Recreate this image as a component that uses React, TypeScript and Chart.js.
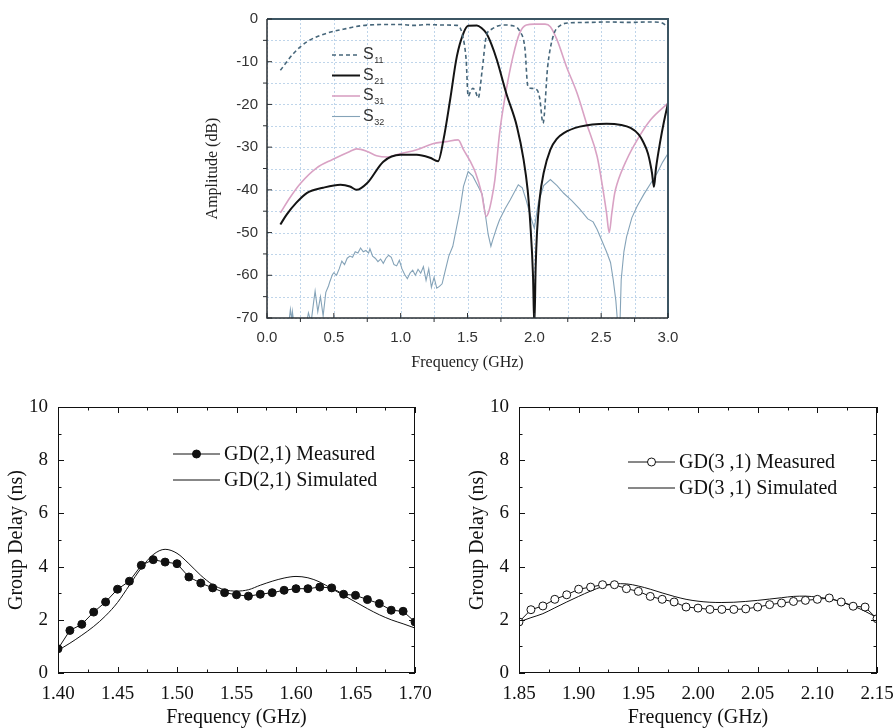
import React, { useEffect, useRef } from "react";
import { Chart, registerables } from "chart.js";
Chart.register(...registerables);

// ---------- Top chart: S-parameters ----------
const topXTicks = [0, 0.5, 1.0, 1.5, 2.0, 2.5, 3.0];
const topYTicks = [0, -10, -20, -30, -40, -50, -60, -70];
const topLegend = ["S11", "S21", "S31", "S32"];

const s11Freq = [0.10, 0.20, 0.30, 0.45, 0.57, 0.70, 0.85, 1.00, 1.10, 1.20, 1.30, 1.42, 1.44, 1.46, 1.49, 1.505, 1.525, 1.54, 1.56, 1.58, 1.61, 1.64, 1.68, 1.77, 1.84, 1.89, 1.93, 1.95, 1.97, 2.02, 2.04, 2.065, 2.10, 2.14, 2.19, 2.27, 2.40, 2.55, 2.70, 2.85, 2.94, 2.98, 3.00];
const s11Db = [-12.0, -8.0, -5.3, -3.3, -2.4, -1.6, -1.3, -1.3, -1.5, -1.3, -1.4, -1.5, -1.8, -3.5, -9.6, -18.1, -16.8, -16.2, -17.0, -18.5, -11.9, -4.1, -2.4, -1.4, -1.6, -2.8, -7.0, -15.5, -16.2, -16.6, -18.5, -24.4, -11.1, -4.1, -1.6, -0.9, -0.8, -0.7, -0.8, -0.7, -0.8, -1.4, -2.0];

const s21Freq = [0.10, 0.147, 0.22, 0.30, 0.42, 0.55, 0.62, 0.67, 0.75, 0.87, 1.00, 1.12, 1.22, 1.28, 1.32, 1.37, 1.42, 1.47, 1.505, 1.57, 1.605, 1.64, 1.68, 1.72, 1.79, 1.87, 1.92, 1.95, 1.97, 1.99, 2.00, 2.01, 2.02, 2.04, 2.07, 2.12, 2.17, 2.22, 2.34, 2.54, 2.65, 2.72, 2.78, 2.81, 2.85, 2.88, 2.895, 2.91, 2.94, 2.97, 3.00];
const s21Db = [-48.1, -45.8, -43.0, -40.7, -39.5, -38.8, -39.2, -40.0, -38.4, -33.4, -31.8, -31.8, -32.5, -33.3, -28.3, -18.9, -8.8, -3.3, -1.6, -1.5, -2.1, -3.3, -6.0, -9.6, -17.4, -25.2, -33.0, -40.0, -48.0, -60.0, -72.0, -58.0, -50.0, -42.0, -36.0, -30.6, -28.0, -26.7, -25.2, -24.5, -24.8, -25.5, -27.0, -28.5, -31.5, -36.0, -39.3, -35.0, -29.0, -24.0, -19.7];

const s31Freq = [0.10, 0.17, 0.25, 0.37, 0.49, 0.62, 0.67, 0.75, 0.82, 0.90, 1.00, 1.12, 1.24, 1.34, 1.43, 1.47, 1.52, 1.56, 1.605, 1.64, 1.66, 1.68, 1.705, 1.74, 1.79, 1.84, 1.89, 1.94, 2.00, 2.08, 2.12, 2.17, 2.24, 2.32, 2.39, 2.47, 2.51, 2.54, 2.56, 2.58, 2.60, 2.62, 2.69, 2.77, 2.87, 3.00];
const s31Db = [-45.4, -41.9, -38.5, -34.9, -32.9, -31.0, -30.4, -31.0, -32.0, -32.3, -31.5, -30.6, -29.2, -28.7, -28.3, -30.6, -33.3, -36.0, -40.7, -46.2, -45.0, -42.3, -37.6, -26.7, -16.6, -8.8, -3.3, -1.4, -1.2, -1.2, -1.8, -4.9, -11.1, -17.4, -24.4, -32.2, -39.2, -45.4, -50.0, -45.4, -41.0, -38.5, -33.0, -28.3, -23.6, -19.7];

const s32Freq = [0.10, 0.16, 0.175, 0.185, 0.19, 0.20, 0.25, 0.29, 0.31, 0.33, 0.35, 0.36, 0.38, 0.40, 0.42, 0.44, 0.46, 0.47, 0.49, 0.50, 0.52, 0.54, 0.56, 0.58, 0.60, 0.62, 0.64, 0.66, 0.68, 0.70, 0.72, 0.74, 0.76, 0.77, 0.79, 0.81, 0.83, 0.85, 0.87, 0.89, 0.91, 0.93, 0.95, 0.97, 0.99, 1.01, 1.03, 1.05, 1.07, 1.09, 1.11, 1.13, 1.15, 1.17, 1.19, 1.21, 1.23, 1.25, 1.27, 1.29, 1.31, 1.33, 1.36, 1.39, 1.42, 1.44, 1.47, 1.505, 1.54, 1.58, 1.61, 1.63, 1.655, 1.675, 1.69, 1.72, 1.74, 1.78, 1.82, 1.88, 1.91, 1.94, 1.97, 2.00, 2.03, 2.07, 2.12, 2.17, 2.22, 2.28, 2.34, 2.40, 2.44, 2.47, 2.50, 2.54, 2.57, 2.59, 2.61, 2.625, 2.64, 2.65, 2.67, 2.69, 2.73, 2.77, 2.82, 2.87, 2.92, 2.96, 3.00];
const s32Db = [-76, -72, -68, -70.5, -68.5, -71, -74, -72, -68.8, -71, -66, -63.7, -68.5, -65, -69.5, -64, -62.5, -61.5, -59.8, -59.4, -60, -58.5, -56.7, -57.5, -56, -55.5, -55.8, -54.5, -54.8, -53.6, -54.5, -54.2, -54.8, -53.8, -55.5, -56, -56.8, -56.2, -57.2, -56, -55.3, -55.8, -57.5, -57.8, -56.5, -58.5, -59.8, -60.8, -59.5, -58.8, -60, -58.6, -59.5, -58, -61.2, -58.5, -62.8, -60.5, -63, -62.6, -62, -59.4, -55.5, -53.2, -48.5, -45.4, -39.2, -35.7, -36.8, -39.2, -41, -45, -50.5, -53.2, -51.6, -48.7, -47, -44.5, -42.3, -38.8, -39.5, -42.5, -46, -49, -43, -39, -37.6, -39, -40.8, -42.5, -44.5, -46.8, -47.5, -49.3, -51.5, -54.5, -57, -61, -66, -72, -72, -61, -54.5, -51, -46.5, -43.8, -41, -38.5, -36, -33.5, -31.5];

// ---------- Bottom charts: group delay ----------
const gdYTicks = [0, 2, 4, 6, 8, 10];
const gd21XTicks = [1.40, 1.45, 1.50, 1.55, 1.60, 1.65, 1.70];
const gd31XTicks = [1.85, 1.90, 1.95, 2.00, 2.05, 2.10, 2.15];
const gd21Labels = ["GD(2,1) Measured", "GD(2,1) Simulated"];
const gd31Labels = ["GD(3 ,1) Measured", "GD(3 ,1) Simulated"];

const gd21Freq = [1.40, 1.41, 1.42, 1.43, 1.44, 1.45, 1.46, 1.47, 1.48, 1.49, 1.50, 1.51, 1.52, 1.53, 1.54, 1.55, 1.56, 1.57, 1.58, 1.59, 1.60, 1.61, 1.62, 1.63, 1.64, 1.65, 1.66, 1.67, 1.68, 1.69, 1.70];
const gd21Measured = [0.91, 1.60, 1.83, 2.29, 2.67, 3.15, 3.45, 4.05, 4.26, 4.17, 4.11, 3.61, 3.38, 3.20, 3.02, 2.94, 2.89, 2.96, 3.02, 3.11, 3.17, 3.17, 3.23, 3.20, 2.96, 2.92, 2.76, 2.61, 2.36, 2.32, 1.92];
const gd21Simulated = [0.85, 1.12, 1.42, 1.75, 2.15, 2.65, 3.30, 3.95, 4.45, 4.65, 4.50, 4.11, 3.67, 3.32, 3.13, 3.08, 3.13, 3.30, 3.45, 3.57, 3.63, 3.58, 3.42, 3.17, 2.92, 2.67, 2.42, 2.19, 2.00, 1.85, 1.69];

const gd31Freq = [1.85, 1.86, 1.87, 1.88, 1.89, 1.90, 1.91, 1.92, 1.93, 1.94, 1.95, 1.96, 1.97, 1.98, 1.99, 2.00, 2.01, 2.02, 2.03, 2.04, 2.05, 2.06, 2.07, 2.08, 2.09, 2.10, 2.11, 2.12, 2.13, 2.14, 2.15];
const gd31Measured = [1.92, 2.38, 2.52, 2.77, 2.94, 3.15, 3.23, 3.32, 3.32, 3.17, 3.07, 2.88, 2.77, 2.67, 2.48, 2.44, 2.39, 2.39, 2.39, 2.41, 2.48, 2.57, 2.63, 2.69, 2.73, 2.77, 2.82, 2.67, 2.51, 2.48, 2.04];
const gd31Simulated = [1.92, 2.08, 2.23, 2.45, 2.67, 2.88, 3.08, 3.25, 3.36, 3.35, 3.27, 3.15, 3.01, 2.88, 2.77, 2.70, 2.66, 2.65, 2.66, 2.69, 2.73, 2.78, 2.83, 2.88, 2.89, 2.85, 2.79, 2.68, 2.52, 2.32, 2.08];

// ---------- helpers ----------
const zip = (xs: number[], ys: number[]) => xs.map((x, i) => ({ x, y: ys[i] }));
const mids = (a: number[]) => a.slice(1).map((v, i) => (v + a[i]) / 2);

const fixAxis = (size: number, horizontal: boolean) => (scale: any) => {
  if (horizontal) scale.height = size; else scale.width = size;
  scale.paddingLeft = 0; scale.paddingRight = 0; scale.paddingTop = 0; scale.paddingBottom = 0;
};
const setTicks = (vals: number[]) => (scale: any) => {
  scale.ticks = vals.map((v) => ({ value: v }));
};

// ---------- top decorations ----------
const topDecor = {
  id: "topDecor",
  beforeDatasetsDraw(chart: any) {
    const { ctx, chartArea: a, scales } = chart;
    const xs = scales.x, ys = scales.y;
    const gx = [...topXTicks, ...mids(topXTicks)];
    const gy = [...topYTicks, ...mids(topYTicks)];
    ctx.save();
    ctx.strokeStyle = "#bfd5ea";
    ctx.lineWidth = 1;
    ctx.setLineDash([2, 2]);
    gx.forEach((v) => {
      const p = Math.round(xs.getPixelForValue(v)) + 0.5;
      ctx.beginPath(); ctx.moveTo(p, a.top); ctx.lineTo(p, a.bottom); ctx.stroke();
    });
    gy.forEach((v) => {
      const p = Math.round(ys.getPixelForValue(v)) + 0.5;
      ctx.beginPath(); ctx.moveTo(a.left, p); ctx.lineTo(a.right, p); ctx.stroke();
    });
    ctx.restore();
  },
  afterDatasetsDraw(chart: any) {
    const { ctx, chartArea: a, scales } = chart;
    const xs = scales.x, ys = scales.y;
    ctx.save();
    ctx.setLineDash([]);
    ctx.strokeStyle = "#3c5563";
    ctx.lineWidth = 2;
    ctx.beginPath();
    ctx.moveTo(a.left, a.top); ctx.lineTo(a.right, a.top); ctx.lineTo(a.right, a.bottom);
    ctx.stroke();
    ctx.strokeStyle = "#2a2f33";
    ctx.lineWidth = 1.5;
    ctx.beginPath();
    ctx.moveTo(a.left, a.top); ctx.lineTo(a.left, a.bottom); ctx.lineTo(a.right, a.bottom);
    ctx.stroke();
    ctx.lineWidth = 1;
    topXTicks.forEach((v) => {
      const p = xs.getPixelForValue(v);
      ctx.beginPath(); ctx.moveTo(p, a.bottom); ctx.lineTo(p, a.bottom - 5); ctx.stroke();
    });
    mids(topXTicks).forEach((v) => {
      const p = xs.getPixelForValue(v);
      ctx.beginPath(); ctx.moveTo(p, a.bottom); ctx.lineTo(p, a.bottom + 4); ctx.stroke();
    });
    topYTicks.forEach((v) => {
      const p = ys.getPixelForValue(v);
      ctx.beginPath(); ctx.moveTo(a.left, p); ctx.lineTo(a.left + 5, p); ctx.stroke();
    });
    mids(topYTicks).forEach((v) => {
      const p = ys.getPixelForValue(v);
      ctx.beginPath(); ctx.moveTo(a.left, p); ctx.lineTo(a.left - 4, p); ctx.stroke();
    });
    chart.data.datasets.forEach((ds: any, i: number) => {
      const y = a.top + 36 + i * 20.5;
      ctx.strokeStyle = ds.borderColor;
      ctx.lineWidth = ds.borderWidth;
      ctx.setLineDash(ds.borderDash || []);
      ctx.beginPath(); ctx.moveTo(a.left + 65, y); ctx.lineTo(a.left + 93, y); ctx.stroke();
      ctx.setLineDash([]);
      ctx.fillStyle = "#333";
      ctx.textBaseline = "middle";
      ctx.textAlign = "left";
      ctx.font = "16px 'Liberation Sans'";
      const label = String(ds.label);
      ctx.fillText(label.slice(0, 1), a.left + 96, y);
      const w = ctx.measureText(label.slice(0, 1)).width;
      ctx.font = "9px 'Liberation Sans'";
      ctx.fillText(label.slice(1), a.left + 96 + w + 0.5, y + 6);
    });
    ctx.restore();
  },
};

function topConfig(): any {
  const mk = (label: string, xs: number[], ys: number[], color: string, width: number, dash: number[] | undefined, smooth: boolean) => ({
    label,
    data: zip(xs, ys),
    borderColor: color,
    backgroundColor: color,
    borderWidth: width,
    borderDash: dash,
    pointRadius: 0,
    fill: false,
    tension: 0,
    cubicInterpolationMode: smooth ? "monotone" : "default",
  });
  return {
    type: "line",
    data: {
      datasets: [
        mk(topLegend[0], s11Freq, s11Db, "#46667a", 1.6, [4, 3], true),
        mk(topLegend[1], s21Freq, s21Db, "#141414", 2, undefined, true),
        mk(topLegend[2], s31Freq, s31Db, "#d9a2c4", 1.6, undefined, true),
        mk(topLegend[3], s32Freq, s32Db, "#85a3b8", 1.1, undefined, false),
      ],
    },
    options: {
      responsive: false,
      animation: false,
      layout: { padding: { top: 19, right: 17, left: 0, bottom: 0 } },
      plugins: { legend: { display: false }, tooltip: { enabled: false } },
      scales: {
        x: {
          type: "linear", min: 0, max: 3,
          afterBuildTicks: setTicks(topXTicks),
          afterFit: fixAxis(57, true),
          grid: { display: false, drawTicks: false },
          border: { display: false },
          ticks: { padding: 11, color: "#333", font: { family: "'Liberation Sans'", size: 15 }, callback: (v: any) => Number(v).toFixed(1) },
          title: { display: true, text: "Frequency (GHz)", color: "#222", padding: { top: 0, bottom: 4 }, font: { family: "'Liberation Serif'", size: 16, lineHeight: 1 } },
        },
        y: {
          type: "linear", min: -70, max: 0,
          afterBuildTicks: setTicks(topYTicks),
          afterFit: fixAxis(67, false),
          grid: { display: false, drawTicks: false },
          border: { display: false },
          ticks: { padding: 9, color: "#333", font: { family: "'Liberation Sans'", size: 15 }, callback: (v: any) => String(Math.round(Number(v))) },
          title: { display: true, text: "Amplitude (dB)", color: "#222", padding: { top: 5, bottom: 0 }, font: { family: "'Liberation Serif'", size: 16, lineHeight: 1 } },
        },
      },
    },
    plugins: [topDecor],
  };
}

// ---------- bottom decorations ----------
function gdDecor(xTicks: number[], legX: number, legY: number) {
  return {
    id: "gdDecor",
    afterDatasetsDraw(chart: any) {
      const { ctx, chartArea: a, scales } = chart;
      const xs = scales.x, ys = scales.y;
      ctx.save();
      ctx.strokeStyle = "#111";
      ctx.lineWidth = 1;
      ctx.strokeRect(Math.round(a.left) + 0.5, Math.round(a.top) + 0.5, Math.round(a.right - a.left) - 1, Math.round(a.bottom - a.top) - 1);
      const tickX = (v: number, len: number) => {
        const p = Math.round(xs.getPixelForValue(v)) + 0.5;
        ctx.beginPath(); ctx.moveTo(p, a.bottom); ctx.lineTo(p, a.bottom - len); ctx.stroke();
        ctx.beginPath(); ctx.moveTo(p, a.top); ctx.lineTo(p, a.top + len); ctx.stroke();
      };
      const tickY = (v: number, len: number) => {
        const p = Math.round(ys.getPixelForValue(v)) + 0.5;
        ctx.beginPath(); ctx.moveTo(a.left, p); ctx.lineTo(a.left + len, p); ctx.stroke();
        ctx.beginPath(); ctx.moveTo(a.right, p); ctx.lineTo(a.right - len, p); ctx.stroke();
      };
      xTicks.forEach((v) => tickX(v, 6));
      mids(xTicks).forEach((v) => tickX(v, 3.5));
      gdYTicks.forEach((v) => tickY(v, 6));
      mids(gdYTicks).forEach((v) => tickY(v, 3.5));
      chart.data.datasets.forEach((ds: any, i: number) => {
        const y = a.top + legY + i * 26;
        const x0 = a.left + legX;
        ctx.strokeStyle = "#111";
        ctx.lineWidth = 1;
        ctx.beginPath(); ctx.moveTo(x0, y); ctx.lineTo(x0 + 47, y); ctx.stroke();
        if (ds.pointRadius > 0) {
          ctx.beginPath();
          ctx.arc(x0 + 23.5, y, ds.pointRadius, 0, Math.PI * 2);
          ctx.fillStyle = ds.pointBackgroundColor;
          ctx.fill();
          ctx.strokeStyle = ds.pointBorderColor;
          ctx.stroke();
        }
        ctx.fillStyle = "#111";
        ctx.font = "20px 'Liberation Serif'";
        ctx.textBaseline = "middle";
        ctx.textAlign = "left";
        ctx.fillText(ds.label, x0 + 51, y + 1);
      });
      ctx.restore();
    },
  };
}

function gdConfig(opts: {
  freq: number[]; measured: number[]; simulated: number[]; labels: string[]; xTicks: number[];
  openMarker: boolean; padRight: number; yWidth: number; yTitlePad: number; legX: number; legY: number;
}): any {
  const serif = "'Liberation Serif'";
  return {
    type: "line",
    data: {
      datasets: [
        {
          label: opts.labels[0],
          data: zip(opts.freq, opts.measured),
          borderColor: "#111",
          borderWidth: 1,
          pointRadius: 4,
          pointBackgroundColor: opts.openMarker ? "#fff" : "#111",
          pointBorderColor: "#111",
          pointBorderWidth: 1,
          tension: 0,
          fill: false,
        },
        {
          label: opts.labels[1],
          data: zip(opts.freq, opts.simulated),
          borderColor: "#111",
          borderWidth: 1,
          pointRadius: 0,
          cubicInterpolationMode: "monotone",
          fill: false,
        },
      ],
    },
    options: {
      responsive: false,
      animation: false,
      layout: { padding: { top: 17, right: opts.padRight, left: 0, bottom: 0 } },
      plugins: { legend: { display: false }, tooltip: { enabled: false } },
      scales: {
        x: {
          type: "linear", min: opts.xTicks[0], max: opts.xTicks[opts.xTicks.length - 1],
          afterBuildTicks: setTicks(opts.xTicks),
          afterFit: fixAxis(55, true),
          grid: { display: false, drawTicks: false },
          border: { display: false },
          ticks: { padding: 10, color: "#111", font: { family: serif, size: 19 }, callback: (v: any) => Number(v).toFixed(2) },
          title: { display: true, text: "Frequency (GHz)", color: "#111", padding: { top: 0, bottom: 0 }, font: { family: serif, size: 20, lineHeight: 1 } },
        },
        y: {
          type: "linear", min: 0, max: 10,
          afterBuildTicks: setTicks(gdYTicks),
          afterFit: fixAxis(opts.yWidth, false),
          grid: { display: false, drawTicks: false },
          border: { display: false },
          ticks: { padding: 10, color: "#111", font: { family: serif, size: 19 }, callback: (v: any) => String(Math.round(Number(v))) },
          title: { display: true, text: "Group Delay (ns)", color: "#111", padding: { top: opts.yTitlePad, bottom: 0 }, font: { family: serif, size: 20, lineHeight: 1 } },
        },
      },
    },
    plugins: [gdDecor(opts.xTicks, opts.legX, opts.legY)],
  };
}

function ChartCanvas(props: { make: () => any; left: number; top: number; width: number; height: number }) {
  const ref = useRef<HTMLCanvasElement | null>(null);
  useEffect(() => {
    if (!ref.current) return;
    const chart = new Chart(ref.current, props.make());
    return () => chart.destroy();
  }, []);
  return (
    <canvas
      ref={ref}
      width={props.width}
      height={props.height}
      style={{ position: "absolute", left: props.left, top: props.top, width: props.width, height: props.height }}
    />
  );
}

export default function App() {
  return (
    <div style={{ position: "absolute", left: 0, top: 0, width: 893, height: 728, background: "#fff", overflow: "hidden" }}>
      <ChartCanvas make={topConfig} left={200} top={0} width={485} height={375} />
      <ChartCanvas
        make={() => gdConfig({ freq: gd21Freq, measured: gd21Measured, simulated: gd21Simulated, labels: gd21Labels, xTicks: gd21XTicks, openMarker: false, padRight: 30, yWidth: 58, yTitlePad: 7, legX: 115, legY: 47 })}
        left={0} top={390} width={445} height={338}
      />
      <ChartCanvas
        make={() => gdConfig({ freq: gd31Freq, measured: gd31Measured, simulated: gd31Simulated, labels: gd31Labels, xTicks: gd31XTicks, openMarker: true, padRight: 16, yWidth: 74, yTitlePad: 23, legX: 109, legY: 55 })}
        left={445} top={390} width={448} height={338}
      />
    </div>
  );
}
